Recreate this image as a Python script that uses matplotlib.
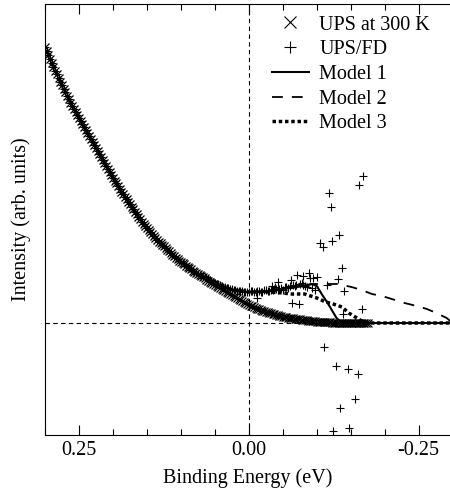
import matplotlib
matplotlib.use("Agg")
import matplotlib.pyplot as plt
from matplotlib.lines import Line2D
from matplotlib.ticker import MultipleLocator, FormatStrFormatter

plt.rcParams['font.family'] = ['Liberation Serif', 'DejaVu Serif']
plt.rcParams['font.size'] = 14.5

# UPS at 300 K, read every 2.5 meV from 0.300 eV down to -0.175 eV
ups_intensity = [
    2.76, 2.72, 2.68, 2.64, 2.60, 2.56, 2.52, 2.49, 2.45, 2.41,
    2.38, 2.34, 2.31, 2.27, 2.24, 2.20, 2.17, 2.14, 2.11, 2.08,
    2.05, 2.02, 1.99, 1.96, 1.93, 1.90, 1.87, 1.84, 1.81, 1.78,
    1.75, 1.72, 1.69, 1.66, 1.63, 1.60, 1.57, 1.54, 1.51, 1.48,
    1.45, 1.42, 1.40, 1.37, 1.34, 1.31, 1.29, 1.26, 1.24, 1.21,
    1.19, 1.16, 1.14, 1.11, 1.09, 1.06, 1.04, 1.01, 0.99, 0.97,
    0.95, 0.93, 0.91, 0.89, 0.87, 0.85, 0.83, 0.81, 0.80, 0.78,
    0.77, 0.75, 0.73, 0.72, 0.70, 0.68, 0.67, 0.65, 0.64, 0.62,
    0.61, 0.60, 0.59, 0.57, 0.56, 0.55, 0.54, 0.52, 0.51, 0.50,
    0.49, 0.48, 0.47, 0.46, 0.45, 0.43, 0.42, 0.41, 0.40, 0.39,
    0.38, 0.37, 0.36, 0.35, 0.34, 0.33, 0.32, 0.31, 0.30, 0.29,
    0.28, 0.27, 0.26, 0.25, 0.24, 0.23, 0.22, 0.21, 0.20, 0.19,
    0.18, 0.172, 0.165, 0.157, 0.150, 0.142, 0.135, 0.127, 0.120, 0.115,
    0.110, 0.105, 0.100, 0.095, 0.090, 0.085, 0.080, 0.075, 0.070, 0.065,
    0.060, 0.057, 0.055, 0.052, 0.050, 0.047, 0.045, 0.042, 0.040, 0.037,
    0.035, 0.032, 0.030, 0.027, 0.025, 0.022, 0.020, 0.019, 0.018, 0.016,
    0.015, 0.013, 0.012, 0.011, 0.010, 0.009, 0.008, 0.007, 0.006, 0.005,
    0.005, 0.004, 0.004, 0.003, 0.003, 0.002, 0.002, 0.002, 0.002, 0.001,
    0.001, 0.001, 0.001, 0.0, 0.0, 0.0, 0.0, 0.0, 0.0, 0.0,
    0.0,
]
ups_energy = [round(0.300 - 0.0025 * i, 4) for i in range(len(ups_intensity))]

# UPS/FD near and above E_F (below ~0.07 eV it is the same as UPS)
fd_energy = [
    0.0675, 0.065, 0.0625, 0.060, 0.0575, 0.055, 0.0525, 0.050, 0.0475, 0.045,
    0.0425, 0.040, 0.0375, 0.035, 0.0325, 0.030, 0.0275, 0.025, 0.0225, 0.020,
    0.0175, 0.015, 0.0125, 0.010, 0.0075, 0.005, 0.0025, 0.000, -0.0025, -0.005,
    -0.0075, -0.010, -0.012, -0.0125, -0.015, -0.0175, -0.020, -0.0225, -0.025, -0.0275,
    -0.030, -0.0325, -0.034, -0.035, -0.0375, -0.038, -0.040, -0.0425, -0.043, -0.045,
    -0.0475, -0.050, -0.0525, -0.055, -0.0575, -0.060, -0.062, -0.063, -0.065, -0.0675,
    -0.070, -0.071, -0.074, -0.075, -0.0775, -0.079, -0.080, -0.0825, -0.085, -0.088,
    -0.090, -0.0925, -0.095, -0.0975, -0.100, -0.104, -0.109, -0.110, -0.115, -0.118,
    -0.121, -0.122, -0.124, -0.128, -0.131, -0.132, -0.134, -0.137, -0.138, -0.140,
    -0.146, -0.147, -0.156, -0.160, -0.162, -0.166, -0.168,
]
fd_intensity = [
    0.47, 0.46, 0.45, 0.44, 0.43, 0.42, 0.41, 0.40, 0.39, 0.39,
    0.38, 0.37, 0.36, 0.36, 0.35, 0.35, 0.34, 0.34, 0.33, 0.33,
    0.32, 0.32, 0.32, 0.32, 0.31, 0.31, 0.31, 0.31, 0.32, 0.32,
    0.31, 0.31, 0.25, 0.32, 0.32, 0.31, 0.31, 0.33, 0.33, 0.32,
    0.32, 0.33, 0.37, 0.33, 0.34, 0.36, 0.34, 0.33, 0.41, 0.34,
    0.35, 0.33, 0.36, 0.36, 0.35, 0.37, 0.43, 0.20, 0.38, 0.37,
    0.38, 0.48, 0.19, 0.39, 0.40, 0.47, 0.38, 0.37, 0.36, 0.50,
    0.45, 0.35, 0.45, 0.33, 0.46, 0.80, 0.76, -0.24, 0.38, 1.30,
    1.16, 0.82, -1.08, -0.43, 0.44, 0.88, -0.85, 0.55, 0.09, 0.32,
    -0.46, -1.05, -0.76, -0.51, 1.38, 0.14, 1.47,
]

m1_energy = [0.03, 0.0, -0.03, -0.06, -0.08, -0.093, -0.100, -0.109, -0.116,
             -0.122, -0.129, -0.134, -0.14, -0.30]
m1_intensity = [0.34, 0.31, 0.32, 0.35, 0.37, 0.39, 0.37, 0.27, 0.20,
                0.13, 0.05, 0.02, 0.0, 0.0]

m2_energy = [0.03, 0.0, -0.03, -0.06, -0.08, -0.093, -0.115, -0.131, -0.151,
             -0.166, -0.181, -0.196, -0.215, -0.229, -0.247, -0.262, -0.276,
             -0.291, -0.30]
m2_intensity = [0.34, 0.31, 0.32, 0.35, 0.37, 0.39, 0.39, 0.39, 0.36,
                0.33, 0.29, 0.27, 0.23, 0.20, 0.17, 0.14, 0.10,
                0.05, 0.0]

m3_energy = [0.03, 0.0, -0.03, -0.05, -0.063, -0.082, -0.10, -0.113, -0.124,
             -0.137, -0.147, -0.159, -0.171, -0.30]
m3_intensity = [0.34, 0.31, 0.31, 0.30, 0.29, 0.29, 0.25, 0.21, 0.19,
                0.16, 0.10, 0.05, 0.0, 0.0]

fig = plt.figure(figsize=(4.5, 4.91), dpi=100)
ax = fig.add_axes([0.1, 0.114, 0.9, 0.878])

ax.axvline(0, color='black', lw=0.8, ls=(0, (4, 3)), zorder=1)
ax.axhline(0, color='black', lw=0.8, ls=(0, (4, 3)), zorder=1)

ax.plot(ups_energy, ups_intensity, ls='none', marker='x', ms=6, mew=0.9,
        color='black', zorder=2)
n_far = sum(e > 0.0675 for e in ups_energy)
ax.plot(ups_energy[:n_far] + fd_energy, ups_intensity[:n_far] + fd_intensity,
        ls='none', marker='+', ms=6, mew=0.8, color='black', zorder=3)

ax.plot(m2_energy, m2_intensity, color='black', lw=1.3, ls=(0, (6, 5)), zorder=4)
ax.plot(m3_energy, m3_intensity, color='black', lw=2.5, ls=(0, (1, 0.8)), zorder=4)
ax.plot(m1_energy, m1_intensity, color='black', lw=1.5, zorder=5)

ax.set_xlim(0.30, -0.296)
ax.set_ylim(-1.12, 3.19)
ax.set_yticks([])
ax.xaxis.set_major_locator(MultipleLocator(0.25))
ax.xaxis.set_minor_locator(MultipleLocator(0.05))
ax.xaxis.set_major_formatter(FormatStrFormatter('%.2f'))
ax.tick_params(axis='x', which='both', direction='in', top=True, pad=4)
ax.tick_params(axis='x', which='major', length=7, width=0.8)
ax.tick_params(axis='x', which='minor', length=4, width=0.8)
ax.spines['right'].set_visible(False)

ax.set_xlabel('Binding Energy (eV)', labelpad=6)
ax.set_ylabel('Intensity (arb. units)', labelpad=10)

handles = [
    Line2D([], [], ls='none', marker='x', ms=9, mew=0.8, color='black'),
    Line2D([], [], ls='none', marker='+', ms=9, mew=0.8, color='black'),
    Line2D([], [], color='black', lw=1.5),
    Line2D([], [], color='black', lw=1.3, ls=(0, (6, 5))),
    Line2D([], [], color='black', lw=2.5, ls=(0, (1, 0.8))),
]
labels = ['UPS at 300 K', 'UPS/FD', 'Model 1', 'Model 2', 'Model 3']
ax.legend(handles, labels, loc='upper right', bbox_to_anchor=(0.985, 1.006),
          frameon=False, handlelength=1.85, handletextpad=0.5,
          labelspacing=0.28, borderpad=0.2)

fig.savefig('out.png', dpi=100)
